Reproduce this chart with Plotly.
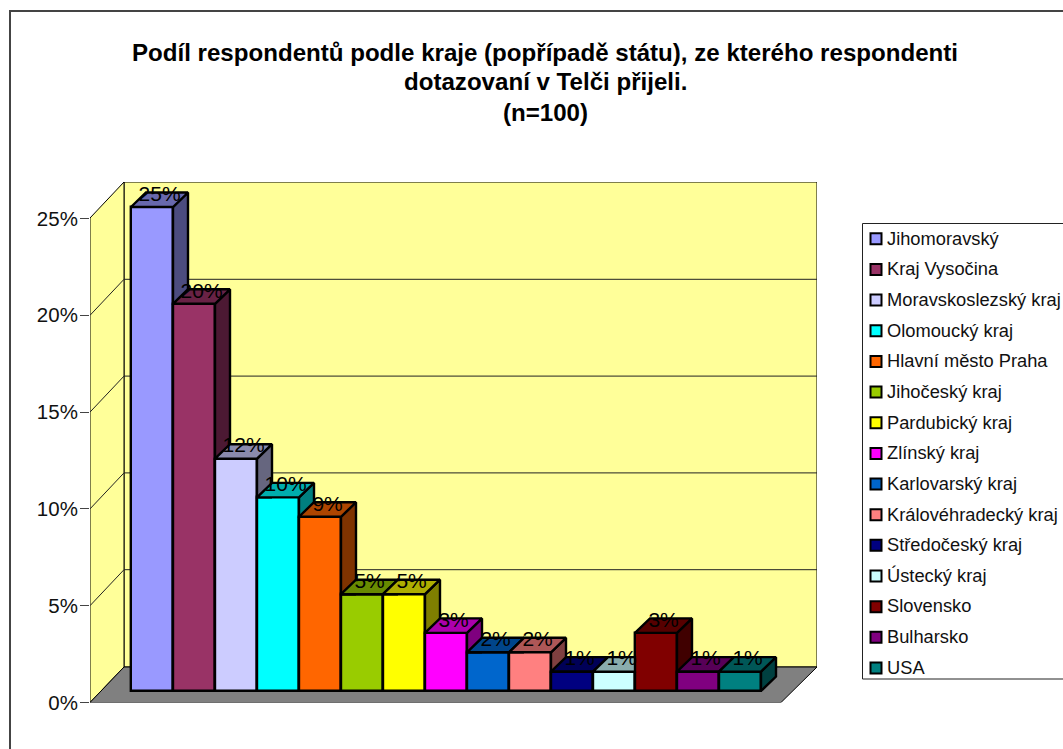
import plotly.graph_objects as go

categories = ["Jihomoravský", "Kraj Vysočina", "Moravskoslezský kraj", "Olomoucký kraj",
              "Hlavní město Praha", "Jihočeský kraj", "Pardubický kraj", "Zlínský kraj",
              "Karlovarský kraj", "Královéhradecký kraj", "Středočeský kraj", "Ústecký kraj",
              "Slovensko", "Bulharsko", "USA"]
values = [25, 20, 12, 10, 9, 5, 5, 3, 2, 2, 1, 1, 3, 1, 1]
colors = ["#9999FF", "#993366", "#CCCCFF", "#00FFFF", "#FF6600", "#99CC00", "#FFFF00", "#FF00FF",
          "#0066CC", "#FF8080", "#000080", "#CCFFFF", "#800000", "#800080", "#008080"]
title_lines = ["Podíl respondentů podle kraje (popřípadě státu), ze kterého respondenti",
               "dotazovaní v Telči přijeli.", "(n=100)"]
title_y = [53, 82, 112]

W, H = 1063, 749
PX_PER_UNIT = 42
PX_PER_PCT = 19.36
X0_PX, Y0_PX = 152, 702.5


def xd(px):
    return (px - X0_PX) / PX_PER_UNIT


def yd(py):
    return (Y0_PX - py) / PX_PER_PCT


base = yd(691)
dx, dy = 15 / PX_PER_UNIT, 14.5 / PX_PER_PCT


def shade(hex_color, f):
    r, g, b = (int(hex_color[i:i + 2], 16) for i in (1, 3, 5))
    return f"rgb({int(r * f)},{int(g * f)},{int(b * f)})"


def clip(poly, inside, cross):
    out = []
    for i, p in enumerate(poly):
        q = poly[(i + 1) % len(poly)]
        if inside(p):
            out.append(p)
        if inside(p) != inside(q):
            out.append(cross(p, q))
    return out


def clip_y(poly, y0, above=True):
    def cross(p, q):
        t = (y0 - p[1]) / (q[1] - p[1])
        return (p[0] + t * (q[0] - p[0]), y0)
    return clip(poly, (lambda p: p[1] >= y0) if above else (lambda p: p[1] <= y0), cross)


def clip_x(poly, x0):
    def cross(p, q):
        t = (x0 - p[0]) / (q[0] - p[0])
        return (x0, p[1] + t * (q[1] - p[1]))
    return clip(poly, lambda p: p[0] <= x0, cross)


def visible(poly, i):
    """Parts of a side/top face of bar i not hidden by the front of bar i+1."""
    if i + 1 >= len(values):
        return [poly]
    xr = i + 0.5
    y_next = base + values[i + 1]
    return [part for part in (clip_y(poly, y_next), clip_x(clip_y(poly, y_next, above=False), xr)) if len(part) > 2]


def face_trace(parts, color):
    xs, ys = [], []
    for part in parts:
        closed = part + [part[0]]
        xs += [p[0] for p in closed] + [None]
        ys += [p[1] for p in closed] + [None]
    return go.Scatter(x=xs, y=ys, mode="lines", fill="toself", fillcolor=color,
                      line=dict(color="black", width=2.4), hoverinfo="skip", showlegend=False)


fig = go.Figure()

# front faces
fig.add_trace(go.Bar(x=list(range(len(values))), y=values, base=base, width=1,
                     marker=dict(color=colors, line=dict(color="black", width=2.4)),
                     hovertext=categories, showlegend=False))

# side and top faces
for i, (v, c) in enumerate(zip(values, colors)):
    xl, xr, top = i - 0.5, i + 0.5, base + v
    side = [(xr, base), (xr + dx, base + dy), (xr + dx, top + dy), (xr, top)]
    roof = [(xl, top), (xr, top), (xr + dx, top + dy), (xl + dx, top + dy)]
    parts = visible(side, i)
    if parts:
        fig.add_trace(face_trace(parts, shade(c, 0.5)))
    parts = visible(roof, i)
    if parts:
        fig.add_trace(face_trace(parts, shade(c, 0.68)))

# data labels
fig.add_trace(go.Scatter(x=[i + 0.18 for i in range(len(values))],
                         y=[base + v + 11.5 / PX_PER_PCT for v in values],
                         mode="text", text=[f"{v}%" for v in values], textposition="middle center",
                         textfont=dict(family="Liberation Sans", size=21, color="black"),
                         hoverinfo="skip", showlegend=False, cliponaxis=False))

# legend
fig.add_trace(go.Scatter(x=[0] * len(categories), y=list(range(len(categories))), xaxis="x2", yaxis="y2",
                         mode="markers",
                         marker=dict(symbol="square", size=11, color=colors, line=dict(color="black", width=2)),
                         hoverinfo="skip", showlegend=False, cliponaxis=False))
fig.add_trace(go.Scatter(x=[11] * len(categories), y=[i + 0.04 for i in range(len(categories))],
                         xaxis="x2", yaxis="y2",
                         mode="text", text=categories, textposition="middle right",
                         textfont=dict(family="Liberation Sans", size=18.3, color="#111111"),
                         hoverinfo="skip", showlegend=False, cliponaxis=False))


def path(points):
    return "M" + "L".join(f"{xd(a)},{yd(b)}" for a, b in points) + "Z"


walls = [
    ([(124, 182), (817, 182), (817, 667), (124, 667)], "#FFFF99"),
    ([(90, Y0_PX), (124, 667), (124, 182), (90, 218)], "#FFFF99"),
    ([(90, Y0_PX), (781, Y0_PX), (817, 667), (124, 667)], "#808080"),
]
shapes = [dict(type="path", xref="x", yref="y", path=path(p), fillcolor=c, layer="below",
               line=dict(color="black", width=1)) for p, c in walls]
for pct in range(5, 25, 5):
    py = Y0_PX - pct * PX_PER_PCT
    shapes.append(dict(type="path", xref="x", yref="y", layer="below", line=dict(color="#222222", width=1),
                       path=f"M{xd(90)},{yd(py)}L{xd(124)},{yd(py - 36)}L{xd(817)},{yd(py - 36)}"))
# chart border (runs off the page at right and bottom) and legend box
shapes.append(dict(type="rect", xref="paper", yref="paper", layer="below",
                   x0=10 / W, x1=1075 / W, y0=1 - 760 / H, y1=1 - 11 / H,
                   line=dict(color="#444444", width=2)))
shapes.append(dict(type="rect", xref="paper", yref="paper", layer="below",
                   x0=862.5 / W, x1=1075 / W, y0=1 - 679 / H, y1=1 - 223.5 / H,
                   line=dict(color="#222222", width=1)))

annotations = [dict(text=f"<b>{t}</b>", xref="paper", yref="paper", x=545 / W, y=1 - py / H,
                    xanchor="center", yanchor="middle", showarrow=False,
                    font=dict(family="Liberation Sans", size=24.1, color="black"))
               for t, py in zip(title_lines, title_y)]

row = 30.64
fig.update_layout(
    width=W, height=H, autosize=False,
    margin=dict(l=0, r=0, t=0, b=0, autoexpand=False),
    paper_bgcolor="white", plot_bgcolor="rgba(0,0,0,0)",
    showlegend=False, bargap=0,
    shapes=shapes, annotations=annotations,
    xaxis=dict(domain=[90 / W, 817 / W], range=[xd(90), xd(817)], visible=False, fixedrange=True, automargin=False),
    yaxis=dict(domain=[1 - Y0_PX / H, 1 - 182 / H], range=[0, yd(182)], tickmode="array",
               tickvals=[0, 5, 10, 15, 20, 25], ticktext=["0%", "5%", "10%", "15%", "20%", "25%"],
               ticks="outside", ticklen=9, tickwidth=1, tickcolor="#444444", showgrid=False,
               zeroline=False, showline=False, fixedrange=True, automargin=False, ticklabelstandoff=-2,
               tickfont=dict(family="Liberation Sans", size=20.5, color="#111111")),
    xaxis2=dict(domain=[862.5 / W, 1], range=[-13.5, 187], visible=False, anchor="y2", fixedrange=True, automargin=False),
    yaxis2=dict(domain=[1 - 679 / H, 1 - 223.5 / H], range=[14 + (679 - 668) / row, -15.3 / row],
                visible=False, anchor="x2", fixedrange=True, automargin=False),
)

fig.write_html("out.html", config=dict(displayModeBar=False),
               post_script="document.body.style.margin='0';document.body.style.overflow='hidden';")
